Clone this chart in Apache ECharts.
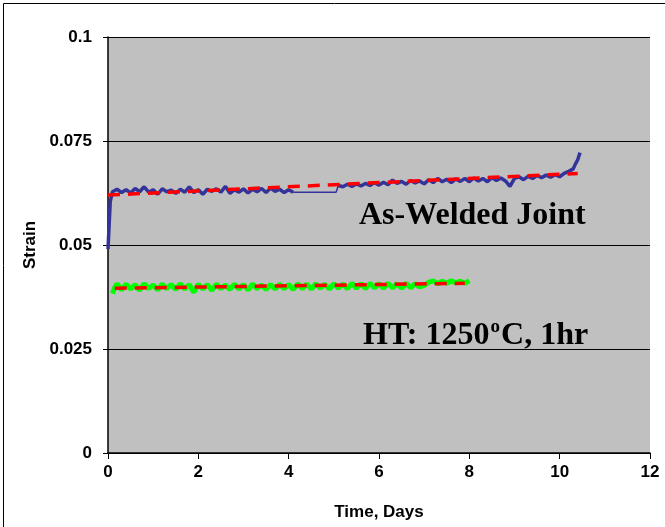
<!DOCTYPE html>
<html>
<head>
<meta charset="utf-8">
<script src="https://cdn.jsdelivr.net/npm/echarts@6/dist/echarts.min.js"></script>
<style>html,body{margin:0;padding:0;background:#fff;}#c{width:665px;height:527px;}</style>
</head>
<body>
<div id="c"></div>
<script>
// As-Welded Joint raw strain data [time (days), strain]
const asWelded = [
  [0,0.0490],[0.05,0.0605],[0.1,0.0628],[0.2,0.0634],[0.3,0.0626],[0.4,0.0633],[0.5,0.0625],
  [0.6,0.0636],[0.7,0.0628],[0.8,0.0640],[0.9,0.0627],[1.0,0.0633],[1.1,0.0622],[1.2,0.0635],
  [1.3,0.0628],[1.4,0.0632],[1.5,0.0624],[1.6,0.0634],[1.7,0.0627],[1.8,0.0640],[1.9,0.0626],
  [2.0,0.0633],[2.1,0.0622],[2.2,0.0634],[2.3,0.0629],[2.4,0.0635],[2.5,0.0627],[2.6,0.0641],
  [2.7,0.0624],[2.8,0.0633],[2.9,0.0627],[3.0,0.0635],[3.1,0.0625],[3.2,0.0634],[3.3,0.0628],
  [3.4,0.0636],[3.5,0.0626],[3.6,0.0637],[3.7,0.0629],[3.8,0.0634],[3.9,0.0626],[4.0,0.0633],
  [4.1,0.0627],[5.05,0.0627],[5.1,0.0643],[5.2,0.0640],[5.3,0.0646],[5.4,0.0641],[5.5,0.0647],
  [5.6,0.0642],[5.7,0.0648],[5.8,0.0643],[5.9,0.0650],[6.0,0.0644],[6.1,0.0651],[6.2,0.0645],
  [6.3,0.0656],[6.4,0.0648],[6.5,0.0653],[6.6,0.0646],[6.7,0.0655],[6.8,0.0649],[6.9,0.0654],
  [7.0,0.0647],[7.1,0.0657],[7.2,0.0650],[7.3,0.0660],[7.4,0.0652],[7.5,0.0658],[7.6,0.0650],
  [7.7,0.0659],[7.8,0.0653],[7.9,0.0660],[8.0,0.0652],[8.1,0.0661],[8.2,0.0654],[8.3,0.0660],
  [8.4,0.0652],[8.5,0.0662],[8.6,0.0655],[8.7,0.0661],[8.8,0.0654],[8.9,0.0641],[9.0,0.0660],
  [9.1,0.0664],[9.2,0.0657],[9.3,0.0665],[9.4,0.0660],[9.5,0.0667],[9.6,0.0662],[9.7,0.0668],
  [9.8,0.0663],[9.9,0.0669],[10.0,0.0664],[10.1,0.0672],[10.2,0.0677],[10.3,0.0683],
  [10.35,0.0695],[10.4,0.0705],[10.45,0.0722]
];
// HT: 1250°C, 1hr raw strain data [time (days), strain]
const heatTreated = [
  [0.1,0.0383],[0.15,0.0398],[0.2,0.0407],[0.3,0.0392],[0.4,0.0406],[0.5,0.0394],[0.6,0.0405],
  [0.7,0.0391],[0.8,0.0407],[0.9,0.0395],[1.0,0.0404],[1.1,0.0392],[1.2,0.0406],[1.3,0.0395],
  [1.4,0.0405],[1.5,0.0393],[1.6,0.0407],[1.7,0.0394],[1.8,0.0405],[1.9,0.0386],[2.0,0.0406],
  [2.1,0.0394],[2.2,0.0405],[2.3,0.0391],[2.4,0.0406],[2.5,0.0395],[2.6,0.0404],[2.7,0.0393],
  [2.8,0.0406],[2.9,0.0394],[3.0,0.0405],[3.1,0.0392],[3.2,0.0406],[3.3,0.0395],[3.4,0.0404],
  [3.5,0.0393],[3.6,0.0405],[3.7,0.0394],[3.8,0.0406],[3.9,0.0395],[4.0,0.0405],[4.1,0.0393],
  [4.2,0.0407],[4.3,0.0395],[4.4,0.0406],[4.5,0.0394],[4.6,0.0407],[4.7,0.0396],[4.8,0.0406],
  [4.9,0.0394],[5.0,0.0407],[5.1,0.0396],[5.2,0.0406],[5.3,0.0395],[5.4,0.0408],[5.5,0.0396],
  [5.6,0.0407],[5.7,0.0395],[5.8,0.0408],[5.9,0.0397],[6.0,0.0407],[6.1,0.0396],[6.2,0.0408],
  [6.3,0.0397],[6.4,0.0407],[6.5,0.0396],[6.6,0.0408],[6.7,0.0397],[6.8,0.0407],[6.9,0.0399],
  [7.0,0.0403],[7.1,0.0410],[7.2,0.0414],[7.3,0.0407],[7.4,0.0413],[7.5,0.0408],[7.6,0.0414],
  [7.7,0.0409],[7.8,0.0413],[7.9,0.0408],[8.0,0.0414]
];
// linear trend lines (red dashed)
const asWeldedTrend = [[0,0.0620],[10.4,0.0672]];
const heatTreatedTrend = [[0.15,0.0396],[7.9,0.0408]];
// axis ticks
const xTicks = {min:0, max:12, interval:2};
const yTicks = {min:0, max:0.1, interval:0.025};
const labels = {aw:'As-Welded Joint', ht:'HT: 1250', htSup:'o', htEnd:'C, 1hr'};

// split the as-welded record where logging paused (thin connecting segment)
const gapStart = asWelded.findIndex(p => p[0] === 4.1);
const gapEnd = asWelded.findIndex(p => p[0] === 5.1);
const awPart1 = asWelded.slice(0, gapStart + 1);
const awBridge = asWelded.slice(gapStart, gapEnd + 1);
const awPart2 = asWelded.slice(gapEnd);

const chart = echarts.init(document.getElementById('c'));
const axisFont = {fontFamily:'Liberation Sans, Arial, sans-serif', fontWeight:'bold', fontSize:17, color:'#000'};
const serif = '"Liberation Serif", "Times New Roman", serif';
chart.setOption({
  animation:false,
  backgroundColor:'#fff',
  grid:{left:108, right:15, top:37, bottom:74, show:true, backgroundColor:'#C0C0C0', borderWidth:0},
  xAxis:{
    type:'value', min:xTicks.min, max:xTicks.max, interval:xTicks.interval,
    name:'Time, Days', nameLocation:'middle', nameGap:51,
    nameTextStyle:axisFont,
    axisLine:{show:true, onZero:false, lineStyle:{color:'#000', width:1.5}},
    axisTick:{show:true, length:6, lineStyle:{color:'#000'}},
    axisLabel:Object.assign({margin:11}, axisFont),
    splitLine:{show:false}
  },
  yAxis:{
    type:'value', min:yTicks.min, max:yTicks.max, interval:yTicks.interval,
    name:'Strain', nameLocation:'middle', nameGap:68, nameRotate:90,
    nameTextStyle:axisFont,
    axisLine:{show:true, lineStyle:{color:'#000', width:1.5}},
    axisTick:{show:true, length:5, lineStyle:{color:'#000'}},
    axisLabel:Object.assign({margin:16}, axisFont),
    splitLine:{show:true, lineStyle:{color:'#000', width:1}}
  },
  series:[
    {type:'line', data:awPart1, showSymbol:false, symbol:'none', lineStyle:{color:'#333399', width:3.5}, z:3},
    {type:'line', data:awBridge, showSymbol:false, symbol:'none', lineStyle:{color:'#333399', width:1.5}, z:3},
    {type:'line', data:awPart2, showSymbol:false, symbol:'none', lineStyle:{color:'#333399', width:3.5}, z:3},
    {type:'line', data:heatTreated, showSymbol:false, symbol:'none', lineStyle:{color:'#00FF00', width:5}, z:3},
    {type:'line', data:asWeldedTrend, showSymbol:false, symbol:'none', lineStyle:{color:'#FF0000', width:3.5, type:[12,8]}, z:4},
    {type:'line', data:heatTreatedTrend, showSymbol:false, symbol:'none', lineStyle:{color:'#FF0000', width:3.5, type:[12,8]}, z:4}
  ],
  graphic:[
    {type:'rect', left:1, top:1, shape:{width:662, height:524}, style:{fill:'none', stroke:'#000', lineWidth:1}, z:0, silent:true},
    {type:'text', left:359, top:200, style:{text:labels.aw, font:'bold 32px ' + serif, fill:'#000'}, z:10},
    {type:'text', left:363, top:318, style:{
      text:'{a|'+labels.ht+'}{s|'+labels.htSup+'}{a|'+labels.htEnd+'}',
      rich:{
        a:{fontFamily:serif, fontWeight:'bold', fontSize:32, color:'#000', verticalAlign:'bottom', lineHeight:34},
        s:{fontFamily:serif, fontWeight:'bold', fontSize:19, color:'#000', verticalAlign:'top', lineHeight:34, padding:[0,1,16,1]}
      }
    }, z:10}
  ]
});
</script>
</body>
</html>
